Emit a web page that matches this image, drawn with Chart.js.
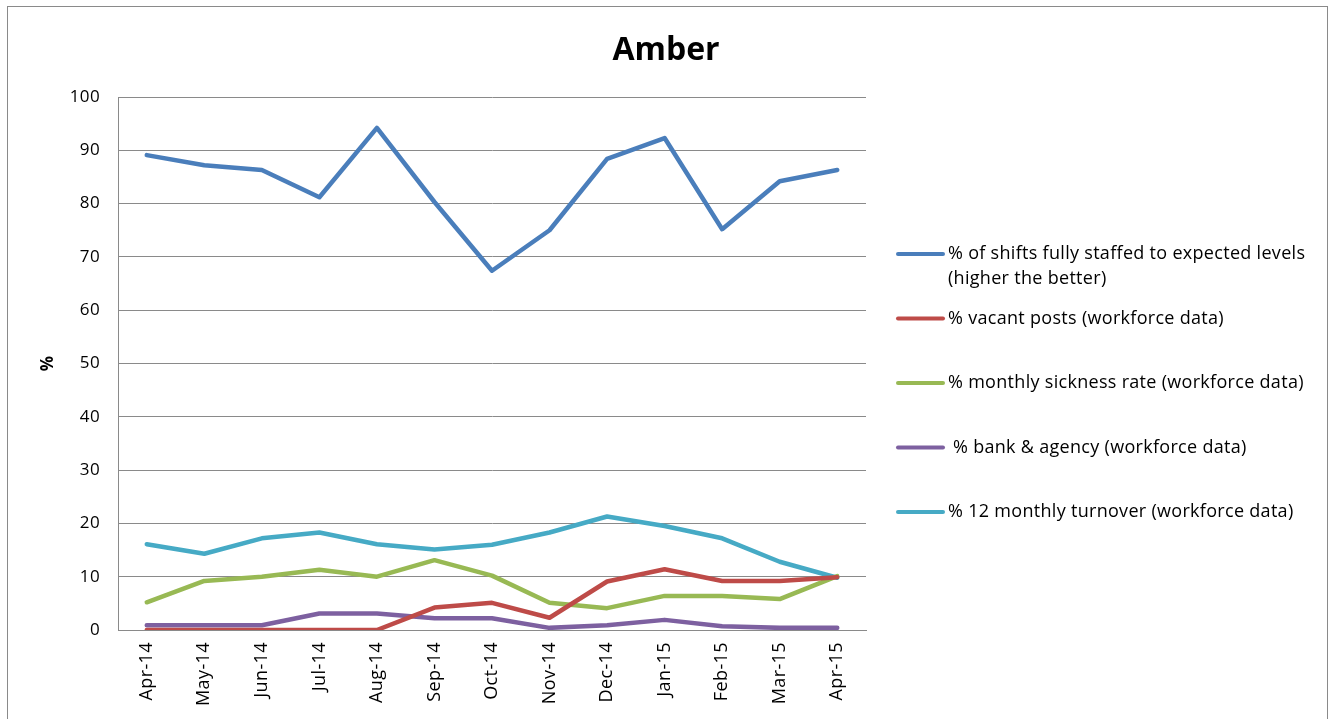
<!DOCTYPE html>
<html>
<head>
<meta charset="utf-8">
<script src="https://cdn.jsdelivr.net/npm/chart.js@4.4.1/dist/chart.umd.min.js"></script>
<style>
  html, body { margin: 0; padding: 0; background: #fff; overflow: hidden; }
  #wrap { position: relative; width: 1332px; height: 719px; }
  #frame { position: absolute; left: 7px; top: 6px; width: 1321px; height: 730px; border: 1px solid #8a8a8a; box-sizing: border-box; pointer-events: none; }
  canvas { position: absolute; left: 0; top: 0; }
</style>
</head>
<body>
<div id="wrap">
  <canvas id="c" width="1332" height="719"></canvas>
  <div id="frame"></div>
</div>
<script>
const chartTitle = 'Amber';
const yAxisTitle = '%';
const months = ['Apr-14','May-14','Jun-14','Jul-14','Aug-14','Sep-14','Oct-14','Nov-14','Dec-14','Jan-15','Feb-15','Mar-15','Apr-15'];
const shiftsStaffed = [89.1, 87.2, 86.3, 81.2, 94.2, 80.3, 67.4, 75.0, 88.4, 92.3, 75.2, 84.2, 86.3];
const vacantPosts   = [0, 0, 0, 0, 0, 4.2, 5.1, 2.3, 9.1, 11.4, 9.2, 9.2, 9.9];
const sicknessRate  = [5.2, 9.2, 10.0, 11.3, 10.0, 13.1, 10.2, 5.1, 4.1, 6.4, 6.4, 5.8, 10.1];
const bankAgency    = [0.9, 0.9, 0.9, 3.1, 3.1, 2.2, 2.2, 0.4, 0.9, 1.9, 0.7, 0.4, 0.4];
const turnover      = [16.1, 14.3, 17.2, 18.3, 16.1, 15.1, 16.0, 18.3, 21.3, 19.5, 17.2, 12.8, 9.8];
const seriesLabels = [
  ['% of shifts fully staffed to expected levels', '(higher the better)'],
  ['% vacant posts (workforce data)'],
  ['% monthly sickness rate (workforce data)'],
  [' % bank & agency (workforce data)'],
  ['% 12 monthly turnover (workforce data)']
];
const seriesColors = ['#4a7ebb', '#be4b48', '#98b954', '#7d60a0', '#46aac5'];
const yTicks = [0,10,20,30,40,50,60,70,80,90,100];

const FONT = '"Open Sans", "Liberation Sans", sans-serif';

const decorations = {
  id: 'decorations',
  beforeDraw(chart) {
    chart.ctx.letterSpacing = '0.4px';
  },
  afterDraw(chart) {
    const ctx = chart.ctx;
    ctx.save();
    // title
    ctx.letterSpacing = '0px';
    ctx.font = 'bold 32px ' + FONT;
    ctx.fillStyle = '#000';
    ctx.textAlign = 'center';
    ctx.textBaseline = 'alphabetic';
    ctx.fillText(chartTitle, 666, 60);
    // legend
    ctx.font = '18px ' + FONT;
    ctx.letterSpacing = '0.3px';
    ctx.textBaseline = 'middle';
    ctx.textAlign = 'left';
    const x0 = 898, x1 = 943, tx = 948;
    const top = 254, step = 64.5, lh = 25;
    chart.data.datasets.forEach((ds, i) => {
      const y = top + i * step;
      ctx.strokeStyle = ds.borderColor;
      ctx.lineWidth = 4;
      ctx.lineCap = 'round';
      ctx.beginPath(); ctx.moveTo(x0, y); ctx.lineTo(x1, y); ctx.stroke();
      ctx.fillStyle = '#000';
      const lines = Array.isArray(ds.label) ? ds.label : [ds.label];
      lines.forEach((t, k) => ctx.fillText(t, tx, y + k * lh));
    });
    ctx.restore();
  }
};

const datasets = [shiftsStaffed, vacantPosts, sicknessRate, bankAgency, turnover].map((d, i) => ({
  label: seriesLabels[i],
  data: d,
  borderColor: seriesColors[i],
  backgroundColor: seriesColors[i],
  borderWidth: 4.5,
  pointRadius: 0,
  tension: 0,
  fill: false,
  borderJoinStyle: 'round',
  borderCapStyle: 'round'
}));

new Chart(document.getElementById('c'), {
  type: 'line',
  data: { labels: months, datasets },
  options: {
    responsive: false,
    animation: false,
    layout: { padding: { left: 0, right: 466, top: 97, bottom: 0 } },
    plugins: {
      legend: { display: false },
      tooltip: { enabled: false },
      title: { display: false }
    },
    scales: {
      x: {
        offset: true,
        grid: { display: false, drawTicks: false },
        border: { display: true, color: '#8a8a8a', width: 1 },
        ticks: { color: '#000', font: { family: FONT, size: 18 }, maxRotation: 90, minRotation: 90, padding: 12, autoSkip: false },
        afterFit(s) { s.height = 89; }
      },
      y: {
        min: 0, max: 100,
        afterBuildTicks(s) { s.ticks = yTicks.map(v => ({ value: v })); },
        grid: { color: '#8a8a8a', lineWidth: 1, drawTicks: false },
        border: { display: true, color: '#8a8a8a', width: 1 },
        ticks: { color: '#000', font: { family: FONT, size: 17 }, padding: 18 },
        title: { display: true, text: yAxisTitle, color: '#000', font: { family: FONT, size: 17, weight: 'bold' }, padding: { top: 38, bottom: 0 } },
        afterFit(s) { s.width = 118; }
      }
    }
  },
  plugins: [decorations]
});
</script>
</body>
</html>
